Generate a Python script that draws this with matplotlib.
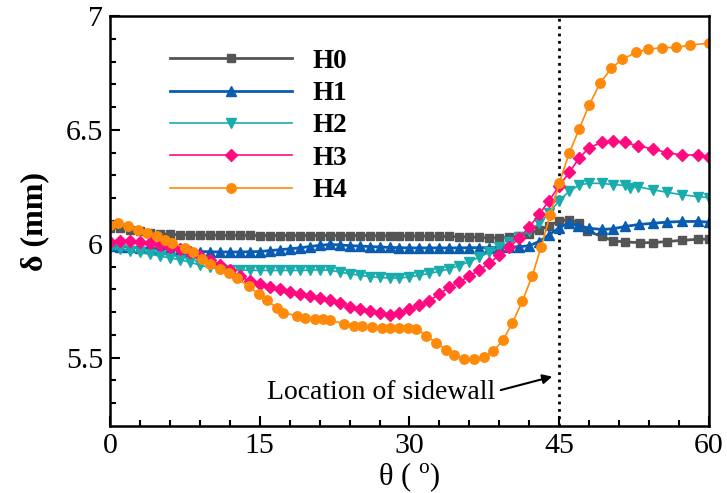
import matplotlib
matplotlib.use("Agg")
import matplotlib.pyplot as plt

plt.rcParams['font.family'] = ['Liberation Serif', 'DejaVu Serif']
plt.rcParams['mathtext.fontset'] = 'custom'
plt.rcParams['mathtext.rm'] = 'Liberation Serif'

# ---------------- data ----------------
labels = ["H0", "H1", "H2", "H3", "H4"]

theta_H0 = [0, 1, 2, 3, 4, 5, 6, 7, 8, 9,
            10, 11, 12, 13, 14, 15, 16, 17, 18, 19,
            20, 21, 22, 23, 24, 25, 26, 27, 28, 29,
            30, 31, 32, 33, 34, 35, 36, 37, 38, 39,
            40, 41, 42, 43, 44, 45, 46, 47,
            47.8, 49.3, 50.4, 51.6, 53.1, 54.4, 55.8, 57.3, 58.9, 60]
delta_H0 = [6.070, 6.068, 6.060, 6.054, 6.048, 6.044, 6.041, 6.040, 6.039, 6.038,
            6.038, 6.037, 6.037, 6.037, 6.037, 6.036, 6.036, 6.036, 6.036, 6.036,
            6.036, 6.036, 6.036, 6.036, 6.036, 6.036, 6.036, 6.035, 6.035, 6.035,
            6.034, 6.034, 6.033, 6.032, 6.032, 6.031, 6.030, 6.028, 6.026, 6.026,
            6.028, 6.034, 6.045, 6.060, 6.080, 6.100, 6.106, 6.092,
            6.056, 6.032, 6.013, 6.008, 6.005, 6.005, 6.010, 6.015, 6.020, 6.020]

theta_H1 = [0, 1, 2, 3, 4, 5, 6, 7, 8, 9,
            10, 11, 12, 13, 14, 15, 16, 17, 18, 19,
            20, 21, 22, 23, 24, 25, 26, 27, 28, 29,
            30, 31, 32, 33, 34, 35, 36, 37, 38, 39,
            40, 41, 42, 43, 44, 45, 46,
            46.9, 48.0, 49.3, 50.4, 51.6, 53.0, 54.4, 55.8, 57.3, 58.9, 60]
delta_H1 = [5.990, 5.988, 5.986, 5.983, 5.980, 5.978, 5.975, 5.972, 5.969, 5.966,
            5.965, 5.964, 5.964, 5.964, 5.965, 5.966, 5.970, 5.974, 5.978, 5.982,
            5.988, 5.993, 5.997, 5.995, 5.992, 5.990, 5.988, 5.986, 5.984, 5.983,
            5.982, 5.982, 5.982, 5.982, 5.982, 5.982, 5.983, 5.983, 5.983, 5.984,
            5.985, 5.987, 5.992, 6.010, 6.040, 6.070, 6.092,
            6.080, 6.068, 6.063, 6.066, 6.076, 6.085, 6.090, 6.095, 6.098, 6.098, 6.095]

theta_H2 = [0, 1, 2, 3, 4, 5, 6, 7, 8, 9,
            10, 11, 12, 13, 14, 15, 16, 17, 18, 19,
            20, 21, 22, 23, 24, 25, 26, 27, 28, 29,
            30, 31, 32, 33, 34, 35, 36, 37, 38, 39,
            40, 41, 42, 43, 44, 45, 46,
            47, 48, 49.3, 50.4, 51.6, 52.1, 52.9, 54.4, 55.8, 57.3, 58.9, 60]
delta_H2 = [5.980, 5.977, 5.970, 5.962, 5.954, 5.946, 5.938, 5.930, 5.920, 5.906,
            5.896, 5.890, 5.887, 5.885, 5.884, 5.883, 5.883, 5.883, 5.883, 5.883,
            5.884, 5.886, 5.884, 5.876, 5.868, 5.862, 5.856, 5.852, 5.850, 5.849,
            5.855, 5.862, 5.870, 5.879, 5.890, 5.904, 5.922, 5.942, 5.962, 5.984,
            6.006, 6.030, 6.058, 6.090, 6.135, 6.190, 6.230,
            6.258, 6.266, 6.265, 6.260, 6.256, 6.245, 6.250, 6.237, 6.226, 6.215, 6.207, 6.203]

theta_H3 = [0, 1, 2, 3, 4, 5, 6, 7, 8, 9,
            10, 11, 12, 13, 14, 15, 16, 17, 18, 19,
            20, 21, 22, 23, 24, 25, 26, 27, 28, 29,
            30, 31, 32, 33, 34, 35, 36, 37, 38, 39,
            40, 41, 42, 43, 44, 45, 46,
            47, 48, 49.3, 50.4, 51.6, 52.9, 54.4, 55.8, 57.3, 58.9, 60]
delta_H3 = [6.010, 6.013, 6.014, 6.010, 6.002, 5.995, 5.985, 5.975, 5.962, 5.946,
            5.930, 5.908, 5.885, 5.858, 5.836, 5.822, 5.810, 5.800, 5.790, 5.778,
            5.770, 5.764, 5.752, 5.738, 5.724, 5.712, 5.703, 5.694, 5.686, 5.694,
            5.712, 5.730, 5.750, 5.780, 5.810, 5.832, 5.858, 5.885, 5.915, 5.950,
            5.985, 6.025, 6.074, 6.130, 6.190, 6.255, 6.313,
            6.376, 6.422, 6.446, 6.452, 6.445, 6.430, 6.416, 6.400, 6.390, 6.390, 6.383]

theta_H4 = [0, 0.8, 1.8, 2.8, 3.7, 4.7, 5.5, 6.2, 7.5, 8.3,
            9.2, 10.0, 11.0, 11.9, 12.7, 13.9, 14.9, 15.7, 16.7, 17.3,
            18.7, 19.5, 20.5, 21.3, 22.0, 23.4, 24.4, 25.2, 26.2, 27.2,
            28.0, 29.0, 29.9, 30.7, 31.7, 32.7, 33.7, 34.5, 35.5, 36.5,
            37.5, 38.4, 39.4, 40.3, 41.3, 42.3, 43.2, 44.1, 45.0, 46.0,
            47.0, 48.0, 49.1, 50.2, 51.3, 52.7, 53.9, 55.3, 56.7, 58.1,
            60.0]
delta_H4 = [6.083, 6.090, 6.080, 6.062, 6.046, 6.032, 6.018, 6.004, 5.982, 5.965,
            5.935, 5.912, 5.890, 5.871, 5.850, 5.813, 5.779, 5.754, 5.718, 5.698,
            5.684, 5.675, 5.671, 5.668, 5.664, 5.650, 5.641, 5.640, 5.636, 5.630,
            5.632, 5.632, 5.632, 5.627, 5.595, 5.565, 5.535, 5.510, 5.496, 5.494,
            5.505, 5.528, 5.579, 5.652, 5.747, 5.860, 5.988, 6.127, 6.266, 6.398,
            6.504, 6.610, 6.705, 6.770, 6.810, 6.840, 6.855, 6.861, 6.862, 6.873,
            6.880]

x_ticks = [0, 15, 30, 45, 60]
y_ticks = [5.5, 6, 6.5, 7]
y_tick_labels = ["5.5", "6", "6.5", "7"]
sidewall_theta = 45

# ---------------- styles ----------------
styles = [
    dict(color="#555555", marker="s", ms=6.2, lw=2.0),
    dict(color="#0a5cb0", marker="^", ms=6.8, lw=2.0),
    dict(color="#1aacac", marker="v", ms=6.8, lw=1.2),
    dict(color="#ff0a80", marker="D", ms=5.8, lw=1.2),
    dict(color="#ff8a0a", marker="o", ms=6.8, lw=1.2),
]
series = [(theta_H0, delta_H0), (theta_H1, delta_H1), (theta_H2, delta_H2),
          (theta_H3, delta_H3), (theta_H4, delta_H4)]

fig = plt.figure(figsize=(7.27, 4.93), dpi=100)
ax = fig.add_axes([0.1513, 0.1359, 0.8239, 0.8316])

for (th, de), lab, st in zip(series, labels, styles):
    ax.plot(th, de, color=st["color"], marker=st["marker"], ms=st["ms"],
            lw=st["lw"], mec=st["color"], mfc=st["color"], label=lab)

ax.axvline(sidewall_theta, color="black", ls=":", lw=2.0, zorder=1)

ax.set_xlim(0, 60)
ax.set_ylim(5.2, 7)
ax.set_xticks(x_ticks)
ax.set_xticklabels([str(t) for t in x_ticks])
ax.set_yticks(y_ticks)
ax.set_yticklabels(y_tick_labels)
ax.set_xticks([t for t in range(0, 61, 3) if t % 15 != 0], minor=True)
ax.set_yticks([5.3, 5.4, 5.6, 5.7, 5.8, 5.9, 6.1, 6.2, 6.3, 6.4, 6.6, 6.7, 6.8, 6.9], minor=True)
ax.tick_params(which="both", direction="in", top=False, right=False,
               labelsize=21.5, width=1.5)
ax.tick_params(which="major", length=7, pad=5)
ax.tick_params(which="minor", length=4)
for sp in ax.spines.values():
    sp.set_linewidth(1.8)

ax.set_xlabel(r"θ ( $^{\mathrm{o}}$)", fontsize=22, labelpad=1)
ax.set_ylabel("δ (mm)", fontsize=23, fontweight="bold", labelpad=12)

ax.annotate("Location of sidewall", xy=(44.3, 5.417), xytext=(38.6, 5.346),
            xycoords="data", textcoords="data", ha="right", va="center",
            fontsize=20,
            arrowprops=dict(arrowstyle="-|>", color="black", lw=1.5,
                            mutation_scale=14, relpos=(1.0, 0.55),
                            shrinkA=2, shrinkB=0))

leg = ax.legend(loc="upper left", bbox_to_anchor=(0.1, 0.92), frameon=False,
                handlelength=4.5, handletextpad=0.75, labelspacing=0.27,
                borderpad=0, borderaxespad=0, numpoints=1,
                prop=dict(family="Liberation Serif", weight="bold", size=19.5))

fig.savefig("out.png", dpi=100)
